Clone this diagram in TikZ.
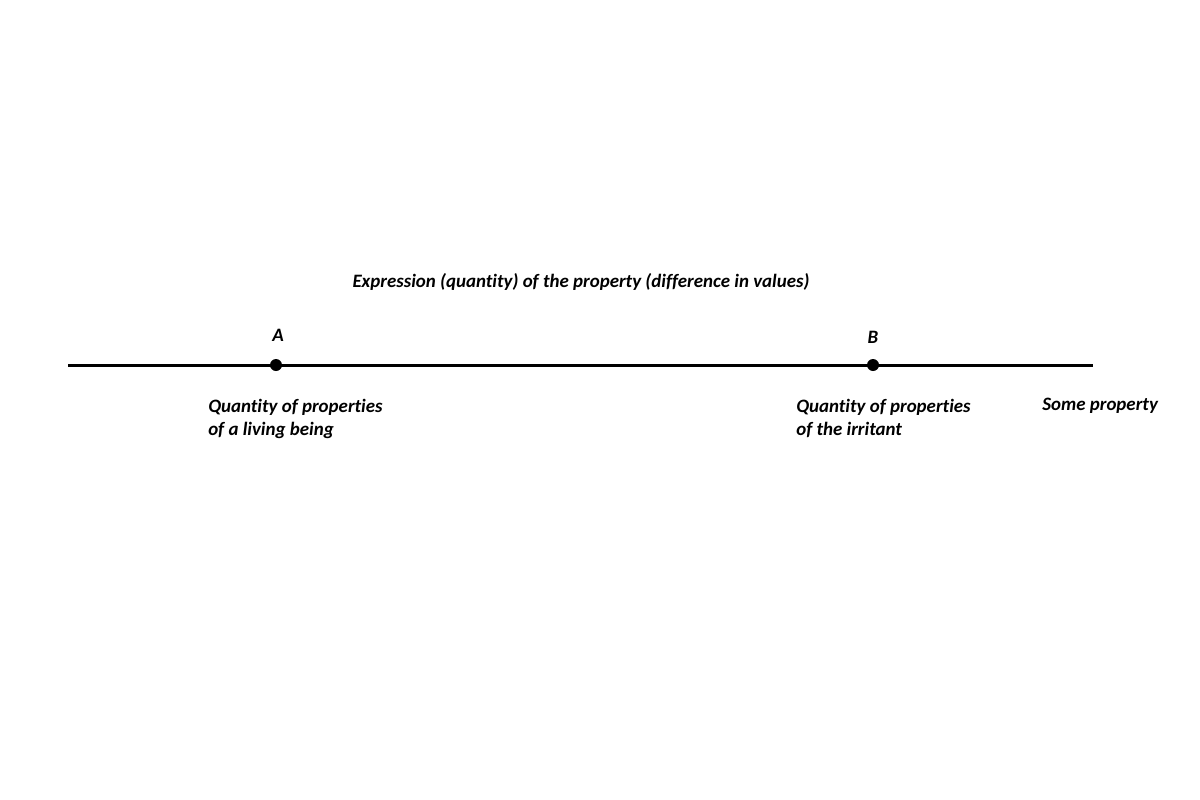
\documentclass[tikz,border=0pt]{standalone}
\usepackage{fontspec}
\setmainfont{Carlito}[Ligatures=NoCommon]
\usetikzlibrary{positioning}
\tikzset{
    label/.style={font=\fontsize{14.2}{17.25}\selectfont\bfseries\itshape, inner sep=0pt, align=left},
    point/.style={circle, fill=black, inner sep=0pt, minimum size=9pt},
    axis/.style={line width=2.25pt}
}
\begin{document}
\begin{tikzpicture}[x=0.75pt, y=-0.75pt]
    \useasboundingbox (0,0) rectangle (1200,800);

    % Axis
    \coordinate (start) at (68, 365);
    \coordinate (stop) at (1093, 365);
    \draw[axis] (start) -- (stop);

    % Points
    \node[point] (a) at (276, 365) {};
    \node[point] (b) at (873, 365) {};
    \node[label] (alab) at (278, 335) {A};
    \node[label] (blab) at (873, 337) {B};

    % Title
    \node[label] (title) at (581, 282) {Expression (quantity) of the property (difference in values)};

    % Descriptions
    \node[label, anchor=north west] (living) at (208, 399) {Quantity of properties\\of a living being};
    \node[label, anchor=north west] (irritant) at (796, 399) {Quantity of properties\\of the irritant};
    \node[label, anchor=north west] (prop) at (1042, 398) {Some property};
\end{tikzpicture}
\end{document}
